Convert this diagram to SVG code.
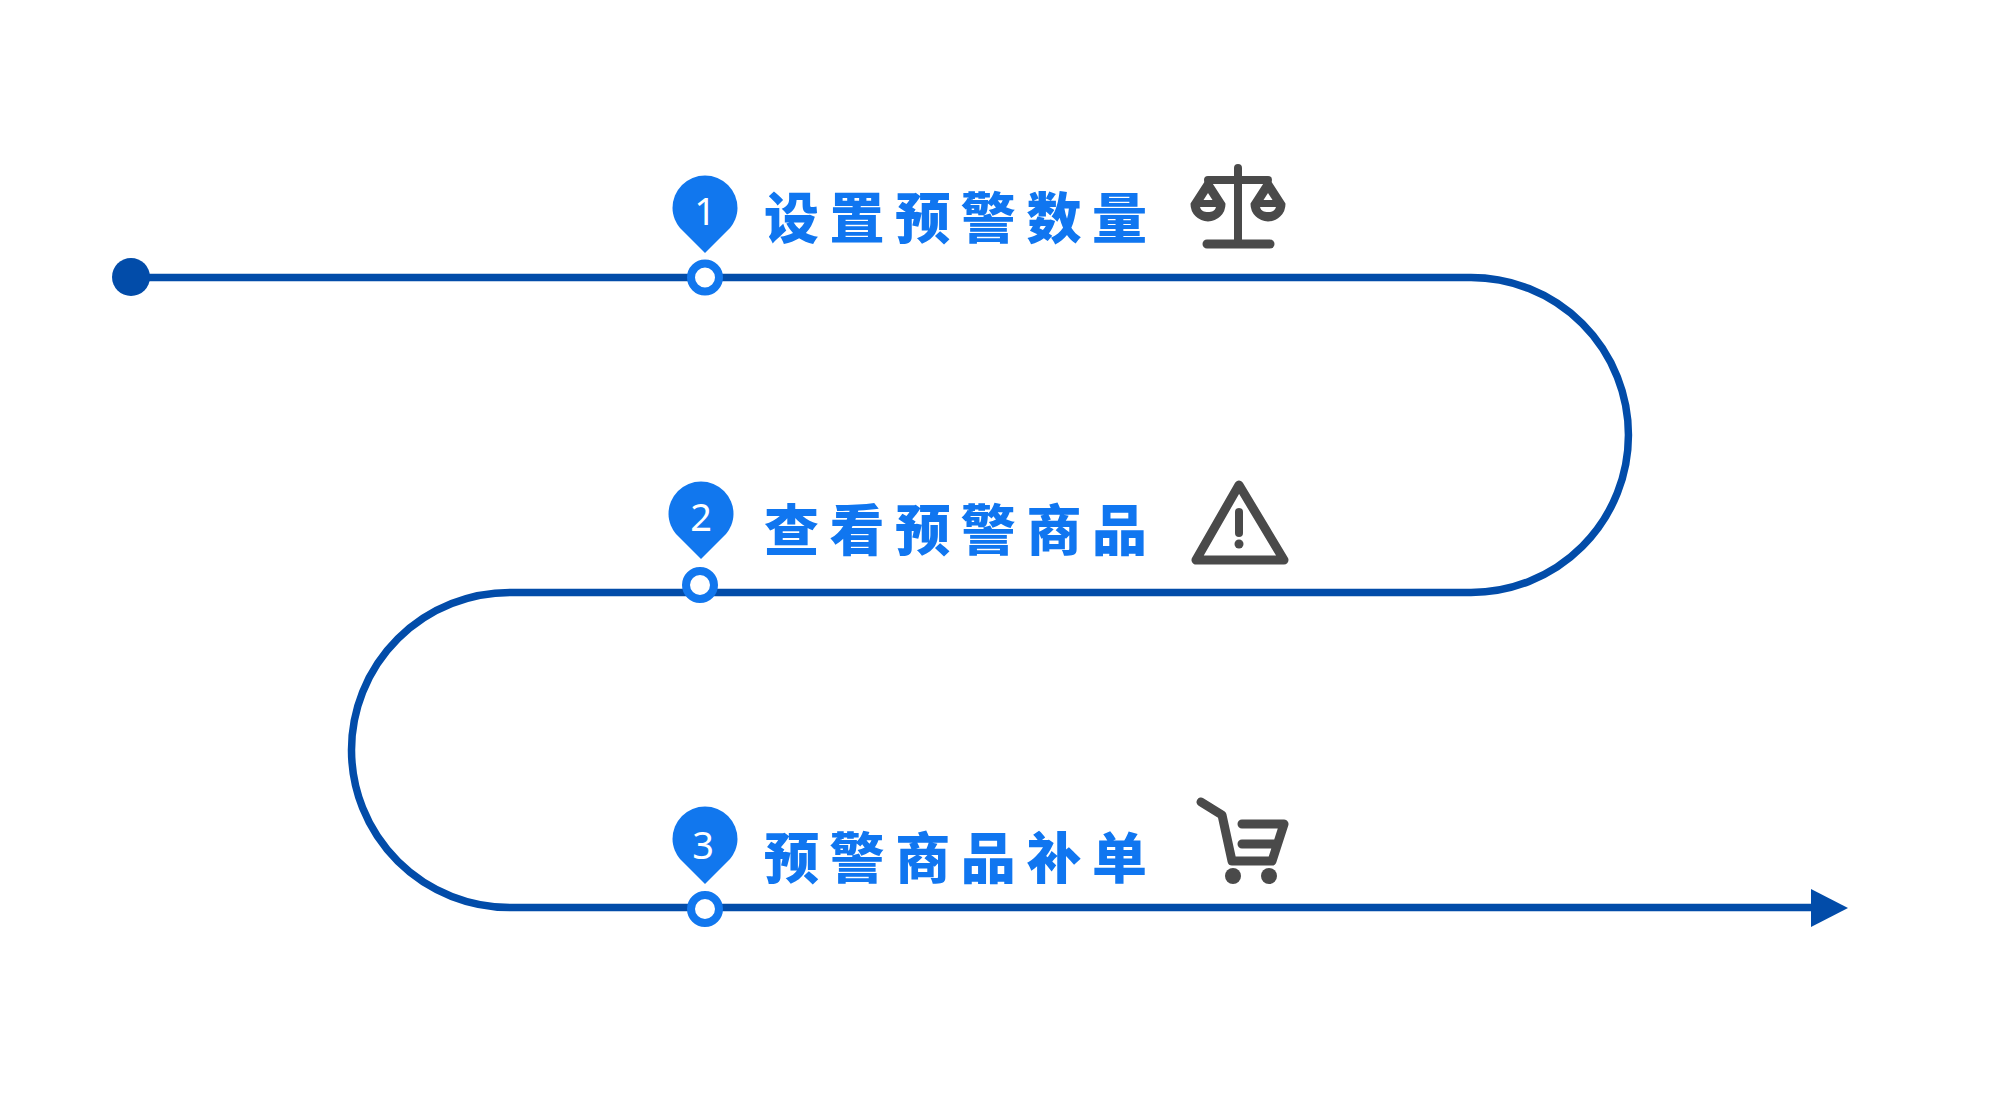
<svg xmlns="http://www.w3.org/2000/svg" width="2000" height="1104" viewBox="0 0 2000 1104">
<style>
.track{fill:none;stroke:#024ca9;stroke-width:7.500}
.pin{fill:#1177ee}
.ring{fill:#fff;stroke:#1177ee;stroke-width:8}
.num{font-family:"Noto Sans","Liberation Sans",sans-serif;font-size:38px;fill:#fff;text-anchor:middle}
.lbl{font-family:"Noto Sans CJK SC",sans-serif;font-size:55px;font-weight:900;fill:#1076f0;letter-spacing:10.600px}
.ic{fill:none;stroke:#4a4a4a;stroke-linecap:round;stroke-linejoin:round}
.icf{fill:#4a4a4a}
.w{fill:#fff}
</style>
<defs>
<path id="pinshape" d="M-32.500 0A32.500 32.500 0 0 1 32.500 0C32.500 8 29 15 25 20L0 45L-25 20C-29 15 -32.500 8 -32.500 0Z"/>
<g id="pan"><path class="icf" d="M0 -24L-15.500 0A15.500 15.500 0 0 0 15.500 0Z" stroke="#4a4a4a" stroke-width="4" stroke-linejoin="round"/><path class="w" d="M0 -11L-4.500 -4H4.500Z"/><path class="w" d="M-8 3H8C7 7 4 8 0 8C-4 8 -7 7 -8 3Z"/></g>
</defs>
<rect id="bg" width="2000" height="1104" fill="#fff"/>
<g id="connectors">
<path class="track" d="M132 277.500H1471A157.500 157.500 0 0 1 1471 592.500H510A158.500 157.500 0 0 0 510 907.500H1812"/>
<path id="arrowhead" d="M1811 889L1848 908L1811 927Z" fill="#024ca9"/>
</g>
<g id="start"><circle cx="131" cy="277" r="19" fill="#024ca9"/></g>
<g id="step1">
<use href="#pinshape" class="pin" x="705" y="208"/>
<circle class="ring" cx="705" cy="277.500" r="14"/>
<text class="num" x="705" y="225">1</text>
<text class="lbl" x="764" y="238">设置预警数量</text>
<g id="icon-scale">
<path class="ic" stroke-width="8" d="M1238 168V244M1208 180H1268"/>
<path class="ic" stroke-width="9" d="M1207 244H1270"/>
<use href="#pan" x="1208" y="204"/>
<use href="#pan" x="1268" y="204"/>
</g>
</g>
<g id="step2">
<use href="#pinshape" class="pin" x="701" y="514"/>
<circle class="ring" cx="700" cy="585" r="14"/>
<text class="num" x="701" y="531">2</text>
<text class="lbl" x="764" y="550">查看预警商品</text>
<g id="icon-warning">
<path class="ic" stroke-width="9" d="M1239 485L1196 560H1284Z"/>
<path class="ic" stroke-width="8" d="M1239 512V533"/>
<circle class="icf" cx="1239" cy="544" r="4.500"/>
</g>
</g>
<g id="step3">
<use href="#pinshape" class="pin" x="705" y="839"/>
<circle class="ring" cx="705" cy="909" r="14"/>
<text class="num" x="703" y="859">3</text>
<text class="lbl" x="764" y="878">预警商品补单</text>
<g id="icon-cart">
<path class="ic" stroke-width="9" d="M1201 802L1222 815L1232 861H1272L1284 824H1242M1242 844H1275"/>
<circle class="icf" cx="1233" cy="876" r="8"/>
<circle class="icf" cx="1269" cy="876" r="8"/>
</g>
</g>
</svg>
